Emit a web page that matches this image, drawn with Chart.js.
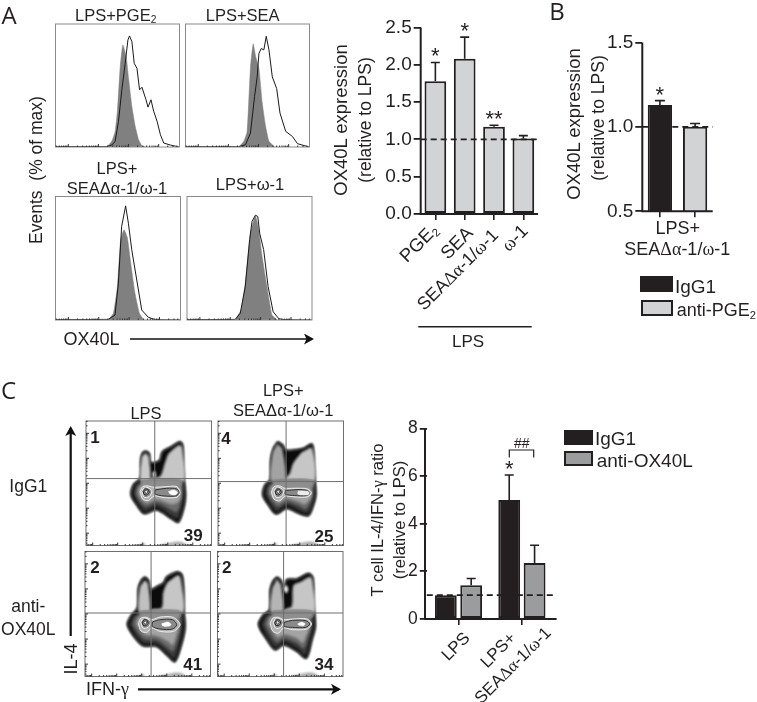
<!DOCTYPE html>
<html lang="en">

<head>
  <meta charset="UTF-8">
  <title>OX40L expression</title>
  <script src="https://cdn.jsdelivr.net/npm/chart.js"></script>
  <style>
    html, body { margin: 0; padding: 0; background: #fff; }
    #page { position: relative; width: 757px; height: 702px; overflow: hidden; font-family: "Liberation Sans", Arial, sans-serif; color: #231f20; }
    #page canvas { position: absolute; }
    .lab { position: absolute; white-space: nowrap; line-height: 1; }
    .lab sub { font-size: 62%; line-height: 0; vertical-align: -0.25em; }
    .lab .g { font-family: "Liberation Serif", serif; }
    .sw { position: absolute; box-sizing: border-box; border: 2px solid #231f20; }
    svg { position: absolute; left: 0; top: 0; }
  </style>
</head>

<body>
  <div id="page">
    <svg width="757" height="702" style="z-index:5">
      <defs>
        <marker id="head" markerWidth="12" markerHeight="12" refX="8" refY="5.5" orient="auto" markerUnits="userSpaceOnUse">
          <path d="M0,0 L10,5.5 L0,11 L2.5,5.5 Z" fill="#111" />
        </marker>
      </defs>
      <line x1="130" y1="339" x2="312" y2="339" stroke="#111" stroke-width="1.6" marker-end="url(#head)" />
      <line x1="70.7" y1="636" x2="70.7" y2="428" stroke="#111" stroke-width="2.2" marker-end="url(#head)" />
      <line x1="138" y1="689.3" x2="339" y2="689.3" stroke="#111" stroke-width="2.2" marker-end="url(#head)" />
      <line x1="418.3" y1="326.7" x2="531.7" y2="326.7" stroke="#231f20" stroke-width="1.6" />
      <path d="M509.3,457.5 V450 H533.7 V457.5" fill="none" stroke="#231f20" stroke-width="1.2" />
    </svg>
  </div>

  <script>
    // ---- panel A bars
    const aCategories = ['PGE<sub>2</sub>', 'SEA', 'SEA\u0394\u03b1-1/\u03c9-1', '\u03c9-1'];
    const aValues = [1.78, 2.08, 1.17, 1.01];
    const aErrTop = [2.03, 2.37, 1.19, 1.05];
    const aStars = ['*', '*', '**', ''];
    const aTicks = [0, 0.5, 1, 1.5, 2, 2.5];

    // ---- panel B bars
    const bCategories = ['IgG1', 'anti-PGE<sub>2</sub>'];
    const bValues = [1.13, 1.0];
    const bErrTop = [1.155, 1.02];
    const bStars = ['*', ''];
    const bTicks = [0.5, 1, 1.5];

    // ---- panel C bars
    const cCategories = ['LPS', 'LPS+ SEA\u0394\u03b1-1/\u03c9-1'];
    const cIgG1 = [1, 5];
    const cIgG1ErrTop = [1, 6.05];
    const cIgG1Stars = ['', '*'];
    const cAntiOX40L = [1.42, 2.35];
    const cAntiErrTop = [1.7, 3.1];
    const cTicks = [0, 2, 4, 6, 8];

    // ---- histograms: channel (0-100), events (% of panel height)
    const h1Fill = [[41.4, 0], [45.4, 4.6], [48.1, 12.7], [50, 30.3], [52.2, 65.4], [54.3, 83], [57, 73.5], [58.9, 56], [61.6, 33], [64.3, 16.8], [67, 5.9], [69.7, 1], [72.4, 0]];
    const h1Line = [[0, 0.3], [41.4, 0.3], [45.4, 1.6], [48.1, 4.6], [50.8, 20.8], [53.5, 46.5], [56.2, 68], [58.4, 87], [59.7, 90.3], [61.6, 85.7], [63.5, 68], [65.7, 64], [67.8, 46.5], [69.7, 48.6], [73, 38.4], [74.6, 32.4], [77, 38.4], [79.2, 29], [81.9, 21], [84.6, 10], [87.3, 3.2], [92.7, 1.6], [99.5, 0]];
    const h2Fill = [[43, 0], [47, 4.6], [49.7, 12.7], [52.4, 65], [54.6, 84], [56.5, 74], [59.2, 64], [61.9, 35.7], [64.6, 16.8], [67.3, 4.6], [71.4, 0.5]];
    const h2Line = [[0, 0.3], [43, 0.3], [48.4, 1.9], [52.4, 11.4], [55.7, 41], [57.8, 57], [59.2, 76], [61, 80], [63.2, 79], [65.1, 90], [67.3, 79], [70, 57], [73.5, 47.6], [76.2, 27.6], [80.8, 12.7], [86.2, 8.6], [90.3, 2.7], [99.7, 0]];
    const h3Fill = [[42.2, 0], [46.3, 5.4], [49.5, 27], [52.1, 64.9], [54.8, 73], [57.5, 66.5], [60.2, 46], [63.6, 21.6], [67.1, 5.4], [70.3, 0.5]];
    const h3Line = [[0, 0.3], [42.2, 0.5], [47.6, 4], [50.3, 29.7], [52.9, 75.7], [56.1, 92.4], [58.3, 78.4], [61, 56.8], [65, 32.4], [69, 8], [74.3, 2.2], [79.7, 0.3], [100, 0]];
    const h4Fill = [[38.6, 0.5], [43.2, 8], [46.6, 29.7], [50.7, 70], [54.7, 84.3], [57.4, 73], [60, 52], [64, 27], [68, 4], [72, 0.5]];
    const h4Line = [[0, 0.3], [38.6, 0.5], [42.6, 5.4], [46.6, 27], [50.1, 65], [52, 79.7], [54.7, 84.9], [56.6, 83.8], [58.2, 70], [61.3, 57], [64.9, 27], [68.9, 6.7], [73.5, 1], [77.5, 0.3], [100, 0]];

    // ---- contour plots: IFN-y channel, IL-4 channel, both on a 0-376 range
    const c1Outer = [[179, 284], [189, 277], [194, 249], [220, 255], [229, 282], [252, 295], [282, 312], [290, 299], [292, 227], [295, 187], [298, 152], [294, 117], [277, 70], [257, 80], [212, 107], [174, 96], [152, 122], [135, 152], [142, 182], [162, 202], [164, 257], [170, 279]];
    const c1LeftLobe = [[178, 277], [187, 267], [191, 188], [165, 188], [168, 265]];
    const c1RightLobe = [[262, 289], [281, 301], [288, 289], [290, 188], [188, 188], [190, 200], [222, 207], [237, 247], [247, 274]];
    const c1Hole = [[200, 218], [206, 222], [208, 208], [203, 204]];
    const c1Body1 = [[142, 155], [156, 127], [176, 104], [212, 117], [257, 89], [274, 82], [287, 119], [292, 155], [289, 192], [162, 192], [147, 177]];
    const c1Body2 = [[150, 155], [162, 132], [180, 117], [212, 129], [257, 107], [272, 102], [282, 127], [287, 155], [284, 182], [167, 185], [154, 175]];
    const c1Body3 = [[157, 157], [167, 139], [182, 129], [212, 139], [257, 125], [277, 132], [284, 155], [277, 177], [212, 180], [172, 182], [160, 175]];
    const c1Ring = [[162, 162], [170, 177], [187, 179], [202, 175], [242, 177], [272, 177], [282, 159], [272, 145], [232, 144], [204, 149], [187, 135], [170, 139]];
    const c1Bar = [[207, 167], [242, 172], [272, 170], [279, 159], [270, 149], [232, 149], [207, 155]];
    const c1Spot = [[247, 162], [262, 167], [274, 160], [267, 152], [252, 155]];

    const c2Outer = [[179, 312], [194, 302], [202, 287], [226, 287], [256, 292], [281, 305], [286, 287], [289, 227], [291, 187], [293, 152], [286, 122], [271, 90], [241, 97], [206, 112], [174, 95], [151, 122], [134, 152], [141, 182], [156, 197], [158, 257], [166, 292]];
    const c2LeftLobe = [[178, 304], [192, 290], [201, 188], [160, 188], [164, 277]];
    const c2RightLobe = [[251, 279], [281, 291], [286, 188], [196, 188], [206, 205], [216, 217], [226, 247]];
    const c2Body1 = [[142, 155], [157, 125], [176, 104], [206, 122], [241, 107], [268, 98], [282, 122], [288, 152], [286, 192], [158, 192], [146, 177]];
    const c2Body2 = [[150, 155], [163, 132], [180, 117], [206, 132], [241, 120], [262, 110], [276, 130], [283, 155], [280, 182], [165, 185], [153, 175]];
    const c2Body3 = [[157, 157], [168, 140], [182, 130], [206, 142], [241, 132], [258, 125], [272, 135], [280, 155], [272, 177], [170, 182], [160, 175]];
    const c2Ring = [[160, 160], [168, 177], [185, 179], [200, 172], [240, 172], [268, 170], [280, 158], [268, 146], [230, 146], [200, 148], [185, 134], [168, 139]];
    const c2Bar = [[202, 165], [240, 168], [265, 166], [275, 158], [265, 150], [230, 150], [202, 154]];
    const c2Spot = [[240, 164], [268, 163], [274, 158], [268, 152], [240, 154]];

    const c3Outer = [[180, 298], [190, 288], [197, 260], [217, 270], [235, 280], [245, 298], [275, 313], [290, 305], [295, 270], [297, 190], [300, 150], [293, 110], [270, 45], [250, 60], [215, 90], [175, 92], [150, 115], [127, 155], [140, 185], [157, 205], [160, 265], [170, 290]];
    const c3LeftLobe = [[179, 287], [188, 277], [193, 188], [163, 188], [165, 265]];
    const c3RightLobe = [[255, 287], [280, 302], [288, 282], [291, 188], [190, 188], [200, 200], [230, 205], [235, 250], [245, 277]];
    const c3Body1 = [[135, 155], [155, 120], [176, 100], [215, 98], [250, 68], [268, 55], [285, 110], [292, 150], [289, 190], [158, 190], [143, 177]];
    const c3Body2 = [[145, 155], [162, 128], [180, 112], [215, 110], [250, 85], [262, 75], [278, 112], [285, 150], [280, 180], [165, 185], [150, 175]];
    const c3Body3 = [[155, 157], [168, 138], [183, 125], [215, 122], [250, 105], [262, 95], [272, 120], [280, 150], [272, 177], [170, 180], [160, 175]];
    const c3Ring = [[160, 158], [168, 175], [185, 177], [200, 170], [225, 178], [265, 177], [285, 155], [265, 135], [225, 135], [200, 145], [185, 132], [168, 136]];
    const c3Bar = [[202, 163], [225, 170], [262, 170], [275, 155], [262, 142], [225, 142], [202, 150]];
    const c3Spot = [[230, 158], [248, 163], [258, 155], [248, 150], [232, 152]];

    const c4Outer = [[178, 298], [190, 288], [200, 260], [208, 290], [238, 292], [273, 308], [286, 295], [288, 220], [293, 150], [283, 110], [266, 55], [238, 75], [198, 95], [173, 80], [148, 110], [123, 155], [138, 185], [156, 200], [158, 260], [166, 285]];
    const c4LeftLobe = [[178, 290], [190, 272], [195, 188], [161, 188], [164, 260]];
    const c4RightLobe = [[248, 282], [278, 297], [285, 277], [287, 188], [190, 188], [203, 200], [223, 210], [228, 272]];
    const c4Hole = [[199, 262], [205, 272], [211, 262], [206, 250]];
    const c4Body1 = [[132, 155], [152, 115], [175, 88], [200, 103], [238, 85], [262, 65], [277, 110], [286, 150], [283, 190], [156, 190], [142, 177]];
    const c4Body2 = [[143, 155], [160, 125], [178, 103], [200, 115], [238, 100], [258, 85], [270, 115], [280, 150], [275, 180], [163, 185], [150, 175]];
    const c4Body3 = [[153, 157], [166, 137], [181, 118], [200, 127], [238, 115], [255, 102], [265, 122], [275, 150], [268, 177], [168, 180], [158, 175]];
    const c4Ring = [[158, 158], [166, 175], [183, 177], [198, 170], [225, 172], [268, 172], [282, 157], [268, 142], [225, 140], [198, 145], [183, 130], [166, 135]];
    const c4Bar = [[200, 162], [225, 168], [265, 167], [276, 157], [265, 147], [225, 147], [200, 150]];
    const c4Spot = [[240, 157], [250, 162], [262, 158], [258, 152], [245, 153]];

    // left population is about the same in all four plots
    const blobOuter = [[167, 162], [175, 175], [189, 172], [197, 162], [189, 147], [174, 145]];
    const blobMid = [[172, 162], [178, 170], [187, 167], [189, 159], [182, 152], [174, 154]];
    const blobCore = [[176, 162], [180, 167], [185, 161], [180, 156]];
    const shoulder = [[166, 197], [284, 197], [282, 176], [168, 176]];
    const axisBlobLeft = [[162, 0], [170, 6], [178, 0]];
    const axisBlobRight = [[222, 0], [252, 6], [272, 10], [292, 7], [300, 0]];

    // quadrant gates: [x, y]
    const gates = [[206, 201], [204, 192], [198, 190], [198, 190]];
    const quadrantUL = ['1', '4', '2', '2'];
    const quadrantLR = ['39', '25', '41', '34'];

    const page = document.getElementById('page');

    const addCanvas = (x, y, w, h) => {
      const c = document.createElement('canvas');
      c.width = w;
      c.height = h;
      c.style.left = x + 'px';
      c.style.top = y + 'px';
      page.appendChild(c);
      return c;
    };

    // canvas on whole pixels around a plot box, padding puts the chart area on the box
    const fitCanvas = (x, y, w, h, m) => {
      const cx = Math.floor(x) - m.left;
      const cy = Math.floor(y) - m.top;
      const cw = Math.ceil(x + w) + m.right - cx;
      const ch = Math.ceil(y + h) + m.bottom - cy;
      return {
        canvas: addCanvas(cx, cy, cw, ch),
        left: x - cx,
        top: y - cy,
        right: cx + cw - x - w,
        bottom: cy + ch - y - h
      };
    };

    const label = (html, x, y, size, opts = {}) => {
      const d = document.createElement('div');
      d.className = 'lab';
      d.innerHTML = opts.serif ? html.replace(/[\u0394\u03b1\u03c9\u03b3]/g, m => `<span class="g">${m}</span>`) : html;
      d.style.left = x + 'px';
      d.style.top = y + 'px';
      d.style.fontSize = size + 'px';
      d.style.zIndex = 6;
      if (opts.bold) d.style.fontWeight = 'bold';
      if (opts.font) d.style.fontFamily = opts.font;
      if (opts.end) {
        d.style.transformOrigin = '100% 50%';
        d.style.transform = `translate(-100%,-50%) rotate(${opts.rot || 0}deg)`;
      } else if (opts.start) {
        d.style.transform = 'translateY(-50%)';
      } else {
        d.style.transform = `translate(-50%,-50%) rotate(${opts.rot || 0}deg)`;
      }
      page.appendChild(d);
    };

    const swatch = (x, y, w, h, color) => {
      const d = document.createElement('div');
      d.className = 'sw';
      d.style.cssText = `left:${x}px;top:${y}px;width:${w}px;height:${h}px;background:${color}`;
      page.appendChild(d);
    };

    const toPoints = pairs => pairs.map(p => ({ x: p[0], y: p[1] }));

    // log tick positions for the flow axes
    const logTicks = (start, decade, end) => {
      const major = [];
      const minor = [];
      for (let d = start - decade; d < end; d += decade) {
        for (let m = 1; m < 10; m++) {
          const pos = d + Math.log10(m) * decade;
          if (pos < 0 || pos > end) continue;
          (m === 1 ? major : minor).push(pos);
        }
      }
      return { major, minor };
    };

    // frame and little log ticks of a flow plot
    const panelPlugin = {
      id: 'panelFrame',
      afterDraw(chart) {
        const { ctx, chartArea: a, scales } = chart;
        const o = chart.options.plugins.panelFrame;
        ctx.save();
        ctx.strokeStyle = o.color;
        ctx.lineWidth = 1;
        ctx.strokeRect(a.left, a.top, a.right - a.left, a.bottom - a.top);
        ctx.strokeStyle = '#333';
        const tx = logTicks(o.xStart, o.xDecade, scales.x.max);
        [[tx.major, 3], [tx.minor, 1.5]].forEach(([list, len]) => list.forEach(v => {
          const px = scales.x.getPixelForValue(v);
          ctx.beginPath();
          ctx.moveTo(px, a.bottom);
          ctx.lineTo(px, a.bottom - len);
          ctx.stroke();
        }));
        if (o.yDecade) {
          const ty = logTicks(o.yStart, o.yDecade, scales.y.max);
          [[ty.major, 3], [ty.minor, 1.5]].forEach(([list, len]) => list.forEach(v => {
            const py = scales.y.getPixelForValue(v);
            ctx.beginPath();
            ctx.moveTo(a.left, py);
            ctx.lineTo(a.left + len, py);
            ctx.stroke();
          }));
        }
        ctx.restore();
      }
    };

    // the density layers melt together, rings and gate lines stay sharp
    const SHARP_FROM = 8; // index of the shoulder layer once the list is reversed
    const softLayers = {
      id: 'softLayers',
      beforeDatasetsDraw(chart) {
        chart.ctx.filter = 'blur(0.8px)';
      },
      beforeDatasetDraw(chart, args) {
        if (args.index <= SHARP_FROM) chart.ctx.filter = 'none';
      },
      afterDatasetsDraw(chart) {
        chart.ctx.filter = 'none';
      }
    };

    const flowOptions = (xMax, yMax, frame, fit) => ({
      responsive: false,
      animation: false,
      layout: { autoPadding: false, padding: { left: fit.left, top: fit.top, right: fit.right, bottom: fit.bottom } },
      plugins: { legend: { display: false }, tooltip: { enabled: false }, panelFrame: frame },
      scales: {
        x: { type: 'linear', display: false, min: 0, max: xMax },
        y: { type: 'linear', display: false, min: 0, max: yMax }
      }
    });

    const histogram = (x, y, w, h, fillData, lineData) => {
      const fit = fitCanvas(x, y, w, h, { left: 1, top: 1, right: 1, bottom: 1 });
      new Chart(fit.canvas, {
        type: 'scatter',
        data: {
          datasets: [{
            data: toPoints(lineData), showLine: true, borderColor: '#1a1a1a', borderWidth: 1, pointRadius: 0, fill: false
          }, {
            data: toPoints(fillData), showLine: true, borderColor: '#808080', borderWidth: 0.5, backgroundColor: '#808080', pointRadius: 0, fill: 'origin', tension: 0.15
          }]
        },
        options: flowOptions(100, 100, { color: '#8a8a8a', xStart: 10.3, xDecade: 24.3 }, fit),
        plugins: [panelPlugin]
      });
    };

    histogram(55.5, 24, 124, 123, h1Fill, h1Line);
    histogram(185.5, 24, 124, 123, h2Fill, h2Line);
    histogram(55.5, 196.5, 125, 123.5, h3Fill, h3Line);
    histogram(187, 196.5, 125, 123.5, h4Fill, h4Line);

    const closed = pairs => toPoints(pairs.concat([pairs[0]]));

    const shape = (pairs, color, stroke, width) => ({
      data: closed(pairs), showLine: true, pointRadius: 0, fill: 'shape', tension: 0.3,
      backgroundColor: color, borderColor: stroke || color, borderWidth: width === undefined ? 0.5 : width
    });

    const contour = (x, y, w, h, p, gate) => {
      const layers = [
        shape(axisBlobLeft, '#aaa', '#777', 0.6),
        shape(axisBlobRight, '#aaa', '#777', 0.6),
        shape(p.outer, '#0b0b0b', '#000', 1.4),
        shape(p.left, p.leftColor),
        shape(p.right, '#c6c6c6')
      ];
      if (p.hole) layers.push(shape(p.hole, '#fff'));
      layers.push(
        shape(p.body1, '#3a3a3a'),
        shape(p.body2, '#6c6c6c'),
        shape(p.body3, '#a4a4a4'),
        shape(shoulder, '#8e8e8e'),
        shape(p.ring, '#b4b4b4', '#f0f0f0', 0.9),
        shape(p.bar, '#8a8a8a', '#262626', 0.9),
        shape(p.spot, p.spotColor),
        shape(blobOuter, '#8c8c8c', '#f2f2f2', 1),
        shape(blobMid, '#9a9a9a', '#222', 1),
        shape(blobCore, '#e8e8e8', '#222', 0.8)
      );
      // crosshair on top
      layers.push({ data: toPoints([[gate[0], 0], [gate[0], 374]]), showLine: true, pointRadius: 0, borderColor: '#6e6e6e', borderWidth: 1 });
      layers.push({ data: toPoints([[0, gate[1]], [376, gate[1]]]), showLine: true, pointRadius: 0, borderColor: '#6e6e6e', borderWidth: 1 });
      const fit = fitCanvas(x, y, w, h, { left: 1, top: 1, right: 1, bottom: 1 });
      new Chart(fit.canvas, {
        type: 'scatter',
        data: { datasets: layers.reverse() },
        options: flowOptions(376, 374, { color: '#6e6e6e', xStart: 20, xDecade: 75, yStart: 37, yDecade: 75 }, fit),
        plugins: [softLayers, panelPlugin]
      });
    };

    contour(86, 421, 125.5, 124.5, { outer: c1Outer, left: c1LeftLobe, right: c1RightLobe, hole: c1Hole, body1: c1Body1, body2: c1Body2, body3: c1Body3, ring: c1Ring, bar: c1Bar, spot: c1Spot, leftColor: '#cacaca', spotColor: '#fff' }, gates[0]);
    contour(218, 421, 125.5, 124.5, { outer: c2Outer, left: c2LeftLobe, right: c2RightLobe, body1: c2Body1, body2: c2Body2, body3: c2Body3, ring: c2Ring, bar: c2Bar, spot: c2Spot, leftColor: '#a3a3a3', spotColor: '#ececec' }, gates[1]);
    contour(85, 551.5, 125.5, 125, { outer: c3Outer, left: c3LeftLobe, right: c3RightLobe, body1: c3Body1, body2: c3Body2, body3: c3Body3, ring: c3Ring, bar: c3Bar, spot: c3Spot, leftColor: '#c0c0c0', spotColor: '#fff' }, gates[2]);
    contour(217.5, 551.5, 125.5, 125, { outer: c4Outer, left: c4LeftLobe, right: c4RightLobe, hole: c4Hole, body1: c4Body1, body2: c4Body2, body3: c4Body3, ring: c4Ring, bar: c4Bar, spot: c4Spot, leftColor: '#b5b5b5', spotColor: '#fff' }, gates[3]);

    // whiskers, stars, dashed reference at 1 and the axis lines
    const barExtras = {
      id: 'barExtras',
      afterDatasetsDraw(chart) {
        const { ctx, chartArea: a, scales } = chart;
        const o = chart.options.plugins.barExtras;
        ctx.save();
        ctx.strokeStyle = '#231f20';
        ctx.fillStyle = '#231f20';
        chart.data.datasets.forEach((ds, i) => {
          chart.getDatasetMeta(i).data.forEach((bar, j) => {
            const top = scales.y.getPixelForValue(ds.errTop[j]);
            ctx.lineWidth = 1.6;
            if (ds.errTop[j] !== ds.data[j]) {
              ctx.beginPath();
              ctx.moveTo(bar.x, bar.y);
              ctx.lineTo(bar.x, top);
              ctx.moveTo(bar.x - o.cap, top);
              ctx.lineTo(bar.x + o.cap, top);
              ctx.stroke();
            }
            if (ds.stars[j]) {
              ctx.font = '22px "Liberation Sans"';
              ctx.textAlign = 'center';
              ctx.textBaseline = 'alphabetic';
              ctx.fillText(ds.stars[j], bar.x, top + 1);
            }
          });
        });
        const ref = scales.y.getPixelForValue(1);
        ctx.lineWidth = 1.7;
        ctx.setLineDash([6, 4]);
        ctx.beginPath();
        ctx.moveTo(a.left, ref);
        ctx.lineTo(a.right + o.right, ref);
        ctx.stroke();
        ctx.setLineDash([]);
        ctx.lineWidth = 2;
        ctx.beginPath();
        ctx.moveTo(a.left - o.left, a.top);
        ctx.lineTo(a.left - o.left, a.bottom + 1);
        ctx.moveTo(a.left - o.left - 1, a.bottom);
        ctx.lineTo(a.right + o.right, a.bottom);
        ctx.stroke();
        ctx.restore();
      }
    };

    const barChart = (box, labels, datasets, ticks, extras, fontSize, barOpts) => {
      const fit = fitCanvas(box.left, box.top, box.right - box.left, box.bottom - box.top, { left: 44, top: 12, right: 6, bottom: 14 });
      new Chart(fit.canvas, {
        type: 'bar',
        data: { labels, datasets },
        options: {
          responsive: false,
          animation: false,
          layout: { autoPadding: false, padding: { top: fit.top, right: fit.right, left: 0, bottom: 0 } },
          plugins: { legend: { display: false }, tooltip: { enabled: false }, barExtras: extras },
          datasets: { bar: barOpts },
          scales: {
            x: {
              afterFit: s => { s.height = fit.bottom; },
              border: { display: false },
              grid: { drawOnChartArea: false, offset: false, color: '#231f20', lineWidth: 1.6, tickLength: 6 },
              ticks: { display: false }
            },
            y: {
              min: ticks[0],
              max: ticks[ticks.length - 1],
              afterFit: s => { s.width = fit.left; },
              afterBuildTicks: s => { s.ticks = ticks.map(v => ({ value: v })); },
              border: { display: false },
              grid: { drawOnChartArea: false, color: '#231f20', lineWidth: 1.8, tickLength: 7 },
              ticks: { color: '#231f20', padding: 2, font: { family: 'Liberation Sans', size: fontSize }, callback: extras.format }
            }
          }
        },
        plugins: [barExtras]
      });
    };

    const oneDecimal = v => v.toFixed(1);
    const plain = v => String(v);
    const edge = { borderColor: '#231f20', borderWidth: 2, borderSkipped: false };

    barChart({ left: 420.7, right: 538, top: 26.7, bottom: 214 }, aCategories,
      [Object.assign({ data: aValues, errTop: aErrTop, stars: aStars, backgroundColor: '#d2d3d4' }, edge)],
      aTicks, { cap: 4.5, left: 0, right: 0, format: oneDecimal }, 19, { barPercentage: 0.74, categoryPercentage: 1 });

    barChart({ left: 642.3, right: 712.7, top: 41.3, bottom: 211.3 }, bCategories,
      [Object.assign({ data: [bValues[0], bValues[1]], errTop: bErrTop, stars: bStars, backgroundColor: ['#231f20', '#d2d3d4'] }, edge)],
      bTicks, { cap: 5, left: 0, right: 0, format: oneDecimal }, 19, { barPercentage: 0.69, categoryPercentage: 1 });

    barChart({ left: 426.8, right: 553.6, top: 428.3, bottom: 619 }, cCategories, [
      Object.assign({ data: cIgG1, errTop: cIgG1ErrTop, stars: cIgG1Stars, backgroundColor: '#231f20' }, edge),
      Object.assign({ data: cAntiOX40L, errTop: cAntiErrTop, stars: ['', ''], backgroundColor: '#9b9c9e' }, edge)
    ], cTicks, { cap: 4.5, left: 1.8, right: 3, format: plain }, 17.5, { barPercentage: 0.86, categoryPercentage: 0.8 });

    // ---- text
    label('A', 9, 15, 24, { font: '"Open Sans"' });
    label('B', 557, 11, 24, { font: '"Open Sans"' });
    label('C', 8.5, 390, 24, { font: '"Open Sans"' });

    label('LPS+PGE<sub>2</sub>', 115.7, 15, 16.5);
    label('LPS+SEA', 242.7, 15, 16.5);
    label('LPS+', 117, 168, 16.5);
    label('SEA\u0394\u03b1-1/\u03c9-1', 117, 188, 16.5);
    label('LPS+\u03c9-1', 250, 184, 16.5);
    label('Events&nbsp; (% of max)', 37, 170, 17.5, { rot: -90 });
    label('OX40L', 91.5, 339, 18);

    label('OX40L expression', 340.7, 120, 18.5, { rot: -90 });
    label('(relative to LPS)', 365.7, 120, 17.5, { rot: -90 });
    const aLabelEnds = [[435, 227], [470, 230], [495, 232], [525, 228]];
    aCategories.forEach((c, i) => label(c, aLabelEnds[i][0], aLabelEnds[i][1], i === 2 ? 18 : 18.5, { rot: -45, end: true, serif: true }));
    label('LPS', 468, 340.7, 17);

    label('OX40L expression', 574.3, 124, 18.5, { rot: -90 });
    label('(relative to LPS)', 599.3, 118, 17.5, { rot: -90 });
    label('LPS+', 677.7, 227.7, 18);
    label('SEA\u0394\u03b1-1/\u03c9-1', 677.3, 249.3, 18, { serif: true });
    swatch(640, 275.7, 32.7, 16, '#231f20');
    swatch(640.7, 300, 32, 15.7, '#d2d3d4');
    label(bCategories[0], 675, 286, 19, { start: true });
    label(bCategories[1], 676.7, 310, 18, { start: true });

    label('LPS', 146, 412.7, 16.5);
    label('LPS+', 283.3, 390, 16.5);
    label('SEA\u0394\u03b1-1/\u03c9-1', 283.3, 410, 16.5);
    label('IgG1', 28.3, 486.7, 17.5);
    label('anti-', 28.3, 606.7, 17.5);
    label('OX40L', 28.3, 630, 17.5);
    label('IL-4', 70.7, 659.3, 18, { rot: -90 });
    label('IFN-\u03b3', 86, 689.3, 18, { start: true, serif: true });

    const ulSpots = [[95, 437], [226, 438], [95, 567], [226.7, 567]];
    const lrSpots = [[193.3, 535], [324, 536], [192.7, 664.3], [324, 664.3]];
    quadrantUL.forEach((t, i) => label(t, ulSpots[i][0], ulSpots[i][1], 17, { bold: true }));
    quadrantLR.forEach((t, i) => label(t, lrSpots[i][0], lrSpots[i][1], 17, { bold: true }));

    label('T cell IL-4/IFN-\u03b3 ratio', 377.7, 520, 16.5, { rot: -90, serif: true });
    label('(relative to LPS)', 399.3, 520, 16.5, { rot: -90 });
    label('LPS', 466.7, 635, 17, { rot: -45, end: true });
    label('LPS+', 513, 635, 17, { rot: -45, end: true });
    label('SEA\u0394\u03b1-1/\u03c9-1', 548.3, 630, 17, { rot: -45, end: true, serif: true });
    label('##', 521.7, 443, 14);
    swatch(564, 430, 29.3, 14.5, '#231f20');
    swatch(564, 451, 29, 14.7, '#9b9c9e');
    label('IgG1', 595, 438.3, 19, { start: true });
    label('anti-OX40L', 596.7, 460, 19, { start: true });
  </script>
</body>

</html>
